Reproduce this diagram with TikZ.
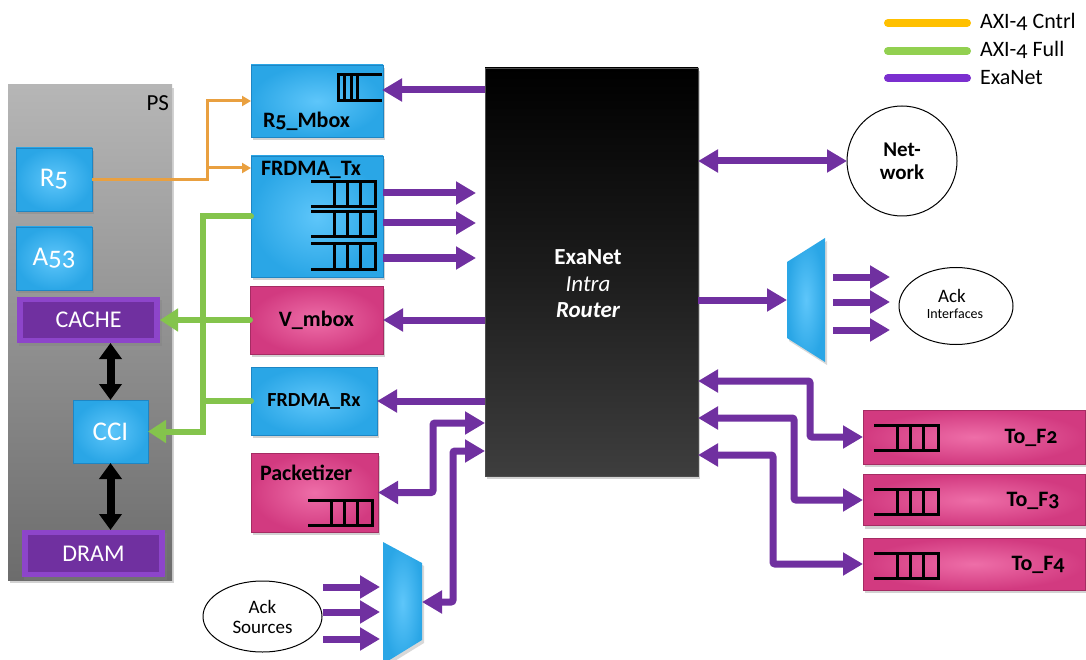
\documentclass[tikz,border=0pt]{standalone}
\usepackage{fontspec}
\setmainfont{Carlito}[Numbers=OldStyle]
\usetikzlibrary{arrows.meta,shadows,shapes.geometric}
\definecolor{pur}{HTML}{7030A0}
\definecolor{purleg}{HTML}{7B2FCF}
\definecolor{grn}{HTML}{84C44C}
\definecolor{grnleg}{HTML}{92D050}
\definecolor{org}{HTML}{E9A040}
\definecolor{orgleg}{HTML}{FFC000}
\definecolor{bluein}{HTML}{5EC6FA}
\definecolor{blueout}{HTML}{2AA6E6}
\definecolor{blueedge}{HTML}{1E86C4}
\definecolor{pinkin}{HTML}{EE6EA8}
\definecolor{pinkout}{HTML}{D23A80}
\definecolor{pinkedge}{HTML}{A52C63}
\definecolor{bevel}{HTML}{8D45CA}
\definecolor{bevelin}{HTML}{7030A0}
\definecolor{routerbot}{HTML}{3E3E3E}
\definecolor{routermid}{HTML}{1C1C1C}
\definecolor{pstop}{HTML}{B6B6B6}
\definecolor{psbot}{HTML}{6C6C6C}
\newcommand{\fs}[1]{\fontsize{#1}{#1}\selectfont}
\begin{document}
\begin{tikzpicture}[x=1pt,y=-1pt,
  every node/.style={inner sep=0pt,outer sep=0pt},
  shad/.style={drop shadow={shadow xshift=2pt,shadow yshift=-3pt,opacity=0.35}},
  bluebox/.style={rectangle,draw=blueedge,line width=0.8pt,inner color=bluein,outer color=blueout,shad},
  pinkbox/.style={rectangle,draw=pinkedge,line width=0.8pt,inner color=pinkin,outer color=pinkout,shad},
  bevelbox/.style={rectangle,fill=bevel,shad,text=white,font=\fs{24},
    path picture={\fill[bevelin] ([shift={(6pt,-5pt)}]path picture bounding box.north west) rectangle ([shift={(-6pt,5pt)}]path picture bounding box.south east);}},
  pslabel/.style={text=white,font=\fs{27}},
  boxlabel/.style={font=\bfseries\fs{22}},
  qline/.style={draw=black,line width=3pt},
  pics/qL/.style={code={\draw[qline] (0,0) -- (64,0) -- (64,25) -- (0,25);
     \draw[qline] (23,0) -- (23,25) (36,0) -- (36,25) (49,0) -- (49,25);}},
  pics/qR/.style={code={\draw[qline] (44,0) -- (0,0) -- (0,26) -- (44,26);
     \draw[qline] (6.5,0) -- (6.5,26) (13,0) -- (13,26) (19.5,0) -- (19.5,26);}},
  ptip/.tip={Triangle[length=20pt,width=22pt]},
  pa/.style={draw=pur,line width=7pt,rounded corners=2pt,-ptip},
  pad/.style={draw=pur,line width=7pt,rounded corners=2pt,ptip-ptip},
  gl/.style={draw=grn,line width=6pt,line cap=round,-{Triangle[length=18pt,width=22pt]}},
  glo/.style={draw=grn,line width=6pt,line cap=round},
  ol/.style={draw=org,line width=3pt,-{Triangle[length=9pt,width=10pt]}},
  bl/.style={draw=black,line width=8pt,{Triangle[length=16pt,width=22pt]}-{Triangle[length=16pt,width=22pt]}},
  legl/.style={line width=8pt,line cap=round},
  legt/.style={anchor=west,font=\fs{22}}
]
\useasboundingbox (0,0) rectangle (1086,660);
\fill[white] (0,0) rectangle (1086,660);

% legend
\node[legt] (lg1) at (980,22) {AXI-4 Cntrl};
\node[legt] (lg2) at (980,50) {AXI-4 Full};
\node[legt] (lg3) at (980,78) {ExaNet};
\draw[legl,orgleg] (888,23) -- (967,23);
\draw[legl,grnleg] (888,51) -- (967,51);
\draw[legl,purleg] (888,78) -- (967,78);

% PS block
\node[rectangle,top color=pstop,bottom color=psbot,shad,minimum width=164pt,minimum height=495pt] (ps) at (90,332.5) {};
\node[anchor=east,font=\fs{23}] (pslbl) at (169,103) {PS};
\node[bluebox,minimum width=76pt,minimum height=63pt,pslabel] (r5) at (54,179.5) {R5};
\node[bluebox,minimum width=76pt,minimum height=63pt,pslabel] (a53) at (54,258.5) {A53};
\node[bevelbox,minimum width=143pt,minimum height=46pt] (cache) at (88.5,320) {CACHE};
\node[bluebox,minimum width=75pt,minimum height=63pt,pslabel] (cci) at (110.5,431.5) {CCI};
\node[bevelbox,minimum width=143pt,minimum height=47pt] (dram) at (93.5,553.5) {DRAM};
\draw[bl] (cci.north |- cache.south) -- (cci.north);
\draw[bl] (cci.south) -- (cci.south |- dram.north);

% left column boxes
\node[bluebox,minimum width=132pt,minimum height=72pt] (r5mbox) at (317,101) {};
\node[boxlabel,anchor=west] (r5mboxl) at (263,121) {R5\_Mbox};
\pic at (338,75) {qR};
\node[bluebox,minimum width=132pt,minimum height=121pt] (frtx) at (317,216.5) {};
\node[boxlabel,anchor=west] (frtxl) at (261,170) {FRDMA\_Tx};
\pic at (311,182) {qL};
\pic at (311,212) {qL};
\pic at (311,244) {qL};
\node[pinkbox,minimum width=133pt,minimum height=68pt,boxlabel] (vmbox) at (316.5,320) {V\_mbox};
\node[bluebox,minimum width=126pt,minimum height=68pt,font=\bfseries\fs{20}] (frrx) at (314,401) {FRDMA\_Rx};
\node[pinkbox,minimum width=127pt,minimum height=79pt] (pack) at (314.5,492.5) {};
\node[boxlabel,anchor=west] (packl) at (260,473) {Packetizer};
\pic at (308,500) {qL};

% router
\node[rectangle,top color=black,bottom color=routerbot,middle color=routermid,draw=black!70,line width=0.6pt,shad,minimum width=213pt,minimum height=408pt] (router) at (591.5,272) {};
\node[text=white,font=\bfseries\fs{23}] (rt1) at (588,257) {ExaNet};
\node[text=white,font=\itshape\fs{23}] (rt2) at (588,284) {Intra};
\node[text=white,font=\bfseries\itshape\fs{23}] (rt3) at (588,310) {Router};

% network
\node[circle,draw=black,line width=1pt,fill=white,minimum size=110pt,align=center,font=\bfseries\fs{21}] (net) at (902,161) {Net-\\[2pt]work};
\draw[pad] (router.east |- net.west) -- (net.west);

% right mux and ack interfaces
\coordinate (mrA) at (787,262); \coordinate (mrB) at (825,238);
\coordinate (mrC) at (825,362); \coordinate (mrD) at (787,338);
\shade[inner color=bluein,outer color=blueout,drop shadow={shadow xshift=2pt,shadow yshift=-3pt,opacity=0.3}] (mrA) -- (mrB) -- (mrC) -- (mrD) -- cycle;
\coordinate (mrin) at (787,300);
\draw[pa] (router.east |- mrin) -- (mrin);
\node[ellipse,draw=black,line width=1pt,minimum width=114pt,minimum height=77pt] (ackif) at (956,306) {};
\node[font=\fs{19}] (ackif1) at (952,296) {Ack};
\node[font=\fs{14}] (ackif2) at (955,314) {Interfaces};
\coordinate (mo1) at (833,277); \coordinate (mo2) at (833,302); \coordinate (mo3) at (833,330);
\draw[pa] (mo1) -- ++(57,0);
\draw[pa] (mo2) -- ++(57,0);
\draw[pa] (mo3) -- ++(57,0);

% To_F boxes
\node[pinkbox,minimum width=222pt,minimum height=54pt] (tof2) at (974,437) {};
\node[pinkbox,minimum width=222pt,minimum height=51pt] (tof3) at (974,500) {};
\node[pinkbox,minimum width=222pt,minimum height=52pt] (tof4) at (974,564) {};
\node[boxlabel] (tof2l) at (1031,438) {To\_F2};
\node[boxlabel] (tof3l) at (1033,501) {To\_F3};
\node[boxlabel] (tof4l) at (1038,565) {To\_F4};
\pic at (874,425) {qL};
\pic at (874,489) {qL};
\pic at (874,553) {qL};
\coordinate (rpf2) at (698,381); \coordinate (cf2) at (810,0);
\coordinate (rpf3) at (698,418); \coordinate (cf3) at (794,0);
\coordinate (rpf4) at (698,455); \coordinate (cf4) at (773,0);
\draw[pad] (rpf2) -| (cf2 |- tof2.west) -- (tof2.west);
\draw[pad] (rpf3) -| (cf3 |- tof3.west) -- (tof3.west);
\draw[pad] (rpf4) -| (cf4 |- tof4.west) -- (tof4.west);

% bottom mux and ack sources
\coordinate (mbA) at (383,542); \coordinate (mbB) at (422,563);
\coordinate (mbC) at (422,640); \coordinate (mbD) at (383,664);
\shade[inner color=bluein,outer color=blueout,drop shadow={shadow xshift=2pt,shadow yshift=-3pt,opacity=0.3}] (mbA) -- (mbB) -- (mbC) -- (mbD) -- cycle;
\node[ellipse,draw=black,line width=1pt,minimum width=119pt,minimum height=71pt,align=center,font=\fs{19}] (acks) at (262.5,616.5) {Ack\\[1pt]Sources};
\coordinate (ai1) at (323,587); \coordinate (ai2) at (323,612); \coordinate (ai3) at (323,639);
\draw[pa] (ai1) -- ++(57,0);
\draw[pa] (ai2) -- ++(57,0);
\draw[pa] (ai3) -- ++(57,0);

% router west ports
\coordinate (rp90) at (485,90); \coordinate (q5end) at (382,90);
\draw[pa] (rp90) -- (q5end);
\draw[pa] ([yshift=23.5pt]frtx.east) -- ++(93,0);
\draw[pa] ([yshift=-6.5pt]frtx.east) -- ++(93,0);
\draw[pa] ([yshift=-41.5pt]frtx.east) -- ++(93,0);
\draw[pa] (router.west |- vmbox.east) -- (vmbox.east);
\draw[pa] (router.west |- frrx.east) -- (frrx.east);
\coordinate (rp423) at (485,423); \coordinate (pcol) at (433,0);
\draw[pad] (pack.east) -| (pcol |- rp423) -- (rp423);
\coordinate (rp451) at (485,451); \coordinate (bcol) at (453,0);
\coordinate (mbout) at (422,602);
\draw[pad] (mbout) -| (bcol |- rp451) -- (rp451);

% AXI-4 Cntrl (orange)
\coordinate (ox) at (207,0);
\draw[ol] (r5.east) -- (r5.east -| ox) |- (r5mbox.west);
\draw[ol] (r5.east -| ox) |- ([yshift=-12pt]frtx.north west);

% AXI-4 Full (green)
\coordinate (gx) at (203,0);
\draw[glo] (frrx.west) -- (frrx.west -| gx);
\draw[gl] (frtx.west) -| (gx |- cci.east) -- (cci.east);
\draw[gl] (vmbox.west) -- (cache.east);
\end{tikzpicture}
\end{document}
